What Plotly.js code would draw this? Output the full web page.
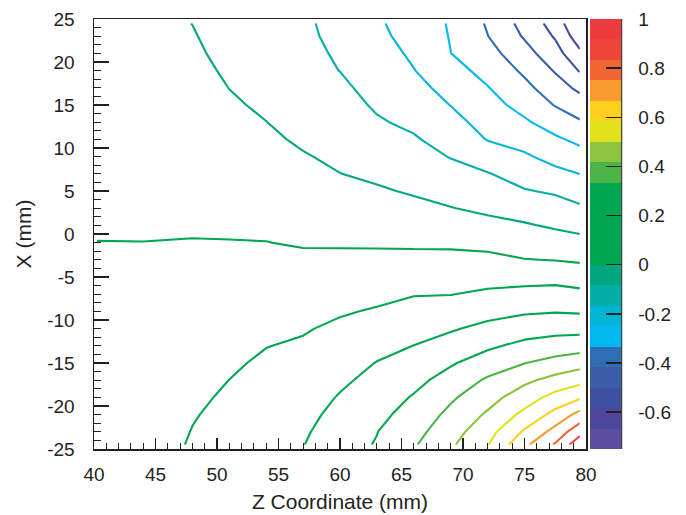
<!DOCTYPE html>
<html>
<head>
<meta charset="utf-8">
<script src="https://cdn.plot.ly/plotly-3.0.1.min.js"></script>
<style>
html,body{margin:0;padding:0;background:#ffffff;}
#chart{width:686px;height:515px;}
</style>
</head>
<body>
<div id="chart"></div>
<script>
// Grid columns: Z coordinate (mm)
const zCoord = [40.25, 44, 48, 51, 54, 57, 60, 63, 66, 69, 72, 75, 77.5, 79.5];
// Grid rows: X (mm)
const xCoord = [-24.5, -23, -21, -19, -17, -15, -13, -11, -9, -7, -5, -3, -1, 1, 3, 5, 7, 9, 11, 13, 15, 17, 19, 21, 23, 24.5];

// Field values, one row per X value
const fieldValues = [
  [0.1083, 0.1208, 0.1750, 0.2050, 0.2333, 0.2475, 0.3075, 0.3375, 0.4083, 0.4875, 0.5792, 0.7317, 0.8417, 0.9725],
  [0.1067, 0.1183, 0.1692, 0.1975, 0.2242, 0.2383, 0.2933, 0.3317, 0.3900, 0.4658, 0.5525, 0.6775, 0.7792, 0.8892],
  [0.1042, 0.1150, 0.1617, 0.1867, 0.2125, 0.2250, 0.2750, 0.3117, 0.3650, 0.4367, 0.5108, 0.6050, 0.6933, 0.7775],
  [0.1017, 0.1117, 0.1533, 0.1767, 0.2008, 0.2125, 0.2558, 0.2917, 0.3400, 0.4050, 0.4692, 0.5433, 0.6117, 0.6563],
  [0.0992, 0.1083, 0.1458, 0.1671, 0.1892, 0.2000, 0.2367, 0.2725, 0.3108, 0.3650, 0.4275, 0.4833, 0.5267, 0.5567],
  [0.0967, 0.1050, 0.1383, 0.1567, 0.1775, 0.1875, 0.2175, 0.2525, 0.2808, 0.3250, 0.3733, 0.4150, 0.4442, 0.4675],
  [0.0942, 0.1017, 0.1308, 0.1467, 0.1650, 0.1750, 0.1992, 0.2267, 0.2508, 0.2825, 0.3192, 0.3542, 0.3717, 0.3808],
  [0.0917, 0.0983, 0.1233, 0.1358, 0.1517, 0.1608, 0.1800, 0.2000, 0.2217, 0.2417, 0.2708, 0.2958, 0.3058, 0.3067],
  [0.0900, 0.0950, 0.1158, 0.1258, 0.1383, 0.1442, 0.1600, 0.1733, 0.1925, 0.2033, 0.2242, 0.2400, 0.2458, 0.2417],
  [0.0883, 0.0925, 0.1083, 0.1158, 0.1250, 0.1275, 0.1392, 0.1483, 0.1633, 0.1650, 0.1792, 0.1900, 0.1958, 0.1858],
  [0.0867, 0.0900, 0.1000, 0.1058, 0.1117, 0.1108, 0.1183, 0.1233, 0.1325, 0.1342, 0.1392, 0.1392, 0.1408, 0.1292],
  [0.0850, 0.0875, 0.0925, 0.0958, 0.0975, 0.0942, 0.0967, 0.0992, 0.1017, 0.1025, 0.1017, 0.0858, 0.0808, 0.0733],
  [0.0837, 0.0836, 0.0850, 0.0850, 0.0842, 0.0783, 0.0767, 0.0750, 0.0725, 0.0708, 0.0625, 0.0467, 0.0350, 0.0242],
  [0.0800, 0.0792, 0.0783, 0.0758, 0.0725, 0.0642, 0.0575, 0.0525, 0.0458, 0.0367, 0.0217, 0.0075, -0.0100, -0.0242],
  [0.0775, 0.0750, 0.0717, 0.0667, 0.0600, 0.0492, 0.0392, 0.0308, 0.0183, 0.0025, -0.0150, -0.0350, -0.0500, -0.0717],
  [0.0750, 0.0708, 0.0650, 0.0567, 0.0483, 0.0342, 0.0200, 0.0083, -0.0075, -0.0275, -0.0475, -0.0783, -0.0933, -0.1192],
  [0.0725, 0.0667, 0.0583, 0.0475, 0.0367, 0.0200, 0.0008, -0.0133, -0.0300, -0.0575, -0.0792, -0.1175, -0.1458, -0.1675],
  [0.0700, 0.0625, 0.0517, 0.0375, 0.0250, 0.0050, -0.0133, -0.0342, -0.0533, -0.0867, -0.1250, -0.1558, -0.1933, -0.2175],
  [0.0675, 0.0583, 0.0450, 0.0283, 0.0125, -0.0100, -0.0275, -0.0550, -0.0758, -0.1142, -0.1700, -0.1975, -0.2375, -0.2692],
  [0.0650, 0.0542, 0.0383, 0.0192, 0.0008, -0.0242, -0.0417, -0.0758, -0.0983, -0.1408, -0.1958, -0.2392, -0.2867, -0.3250],
  [0.0625, 0.0500, 0.0317, 0.0092, -0.0108, -0.0392, -0.0558, -0.0925, -0.1200, -0.1683, -0.2217, -0.2767, -0.3375, -0.3775],
  [0.0600, 0.0458, 0.0250, -0.0008, -0.0225, -0.0525, -0.0700, -0.1067, -0.1417, -0.1942, -0.2467, -0.3117, -0.3800, -0.4350],
  [0.0575, 0.0417, 0.0183, -0.0092, -0.0342, -0.0617, -0.0842, -0.1200, -0.1642, -0.2208, -0.2750, -0.3475, -0.4233, -0.5058],
  [0.0550, 0.0375, 0.0117, -0.0192, -0.0458, -0.0650, -0.0917, -0.1342, -0.1792, -0.2492, -0.3033, -0.3858, -0.4675, -0.5675],
  [0.0525, 0.0333, 0.0050, -0.0283, -0.0575, -0.0667, -0.1042, -0.1475, -0.1958, -0.2542, -0.3317, -0.4250, -0.5083, -0.6300],
  [0.0500, 0.0308, -0.0008, -0.0350, -0.0667, -0.0683, -0.1125, -0.1542, -0.2083, -0.2567, -0.3417, -0.4458, -0.5333, -0.6750]
];

// Contour levels drawn as lines
const contourLevels = [-0.58333, -0.5, -0.41667, -0.33333, -0.25, -0.16667, -0.08333, 0, 0.08333,
  0.16667, 0.25, 0.33333, 0.41667, 0.5, 0.58333, 0.66667, 0.75, 0.83333, 0.91667];

// Palette bands of the colour scale, from -0.75 (bottom) to 1 (top)
const paletteMin = -0.75;
const paletteMax = 1;
const bandColors = ['#5d4c9f', '#4b489e', '#3d50a1', '#3a5ca9', '#2f6eb5', '#00b8ef', '#00b5d6',
  '#00aea6', '#00a77f', '#00a650', '#00a650', '#00a650', '#00a650', '#4bb449', '#8dc43f',
  '#e2e21b', '#fdd01b', '#f89b2c', '#f06633', '#ef4539', '#ec3a3f'];

const colorbarTicks = [-0.6, -0.4, -0.2, 0, 0.2, 0.4, 0.6, 0.8, 1];
const colorbarTickText = ['-0.6', '-0.4', '-0.2', '0', '0.2', '0.4', '0.6', '0.8', '1'];
const xTicks = [40, 45, 50, 55, 60, 65, 70, 75, 80];
const xTickText = ['40', '45', '50', '55', '60', '65', '70', '75', '80'];
const yTicks = [-25, -20, -15, -10, -5, 0, 5, 10, 15, 20, 25];
const yTickText = ['-25', '-20', '-15', '-10', '-5', '0', '5', '10', '15', '20', '25'];

const FONT = 'Liberation Sans, Arial, Helvetica, sans-serif';
const INK = '#231f20';
const PLOT_W = 492;                 // plot area width in px (686 - 94 - 100)
const CB_X = 1 + 4 / PLOT_W;        // left edge of the palette, in paper units
const CB_RIGHT = 1 + 35.5 / PLOT_W; // right edge line of the palette, in paper units

// Each contour level is drawn in the colour of the palette band just below it
const traces = contourLevels.map(function (lv, i) {
  return {
    type: 'contour',
    x: zCoord,
    y: xCoord,
    z: fieldValues,
    autocontour: false,
    contours: {start: lv, end: lv, size: 1, coloring: 'none', showlabels: false},
    line: {color: bandColors[i + 1], width: 2.1, smoothing: 0},
    showscale: false,
    hoverinfo: 'skip'
  };
});

// Stepped colour scale for the palette (colour bar)
const stepScale = [];
bandColors.forEach(function (c, i) {
  stepScale.push([i / bandColors.length, c]);
  stepScale.push([(i + 1) / bandColors.length, c]);
});

const colorbarBase = {
  x: CB_X, xanchor: 'left', xpad: 0,
  y: 0.5, yanchor: 'middle', ypad: 0,
  len: 1, lenmode: 'fraction',
  thickness: 31, thicknessmode: 'pixels',
  outlinewidth: 0,
  tickmode: 'array', tickvals: colorbarTicks, ticktext: colorbarTickText
};

// Palette with its labels (transparent outside ticks only give the label offset)
traces.push({
  type: 'heatmap',
  x: [0, 1], y: [0, 1],
  z: [[paletteMin, paletteMax], [paletteMin, paletteMax]],
  zmin: paletteMin, zmax: paletteMax,
  colorscale: stepScale,
  hoverinfo: 'skip',
  showscale: true,
  colorbar: Object.assign({}, colorbarBase, {
    ticks: 'outside', ticklen: 14, tickwidth: 1, tickcolor: 'rgba(0,0,0,0)',
    tickfont: {family: FONT, size: 19, color: INK}
  })
});

// Transparent overlay palette that only draws the inward tick marks
traces.push({
  type: 'heatmap',
  x: [0, 1], y: [0, 1],
  z: [[paletteMin, paletteMax], [paletteMin, paletteMax]],
  zmin: paletteMin, zmax: paletteMax,
  colorscale: [[0, 'rgba(0,0,0,0)'], [1, 'rgba(0,0,0,0)']],
  hoverinfo: 'skip',
  showscale: true,
  colorbar: Object.assign({}, colorbarBase, {
    bgcolor: 'rgba(0,0,0,0)',
    ticks: 'inside', ticklen: 15, tickwidth: 1.5, tickcolor: INK,
    showticklabels: false
  })
});

const layout = {
  width: 686,
  height: 515,
  margin: {l: 94, r: 100, t: 19, b: 66, pad: 0},
  paper_bgcolor: '#ffffff',
  plot_bgcolor: '#ffffff',
  showlegend: false,
  xaxis: {
    range: [40, 80],
    tickmode: 'array', tickvals: xTicks, ticktext: xTickText,
    ticks: 'inside', ticklen: 11, tickwidth: 1.3, tickcolor: INK,
    minor: {ticks: 'inside', dtick: 1, ticklen: 6, tickwidth: 1, tickcolor: INK, showgrid: false},
    showline: true, linecolor: INK, linewidth: 1.5, mirror: true,
    showgrid: false, zeroline: false,
    tickfont: {family: FONT, size: 19, color: INK},
    ticklabelstandoff: 8,
    title: {text: 'Z Coordinate (mm)', font: {family: FONT, size: 21, color: INK}, standoff: 10}
  },
  yaxis: {
    range: [-25, 25],
    tickmode: 'array', tickvals: yTicks, ticktext: yTickText,
    ticks: 'inside', ticklen: 15, tickwidth: 1.3, tickcolor: INK,
    minor: {ticks: 'inside', dtick: 1, ticklen: 7, tickwidth: 1, tickcolor: INK, showgrid: false},
    showline: true, linecolor: INK, linewidth: 1.5, mirror: true,
    showgrid: false, zeroline: false,
    tickfont: {family: FONT, size: 19, color: INK},
    ticklabelstandoff: 14,
    title: {text: 'X (mm)', font: {family: FONT, size: 21, color: INK}, standoff: 10}
  },
  shapes: [{
    type: 'line', xref: 'paper', yref: 'paper',
    x0: CB_RIGHT, x1: CB_RIGHT, y0: 0, y1: 1,
    line: {color: '#444444', width: 1.5}
  }]
};

Plotly.newPlot('chart', traces, layout, {displayModeBar: false, staticPlot: true});
</script>
</body>
</html>
